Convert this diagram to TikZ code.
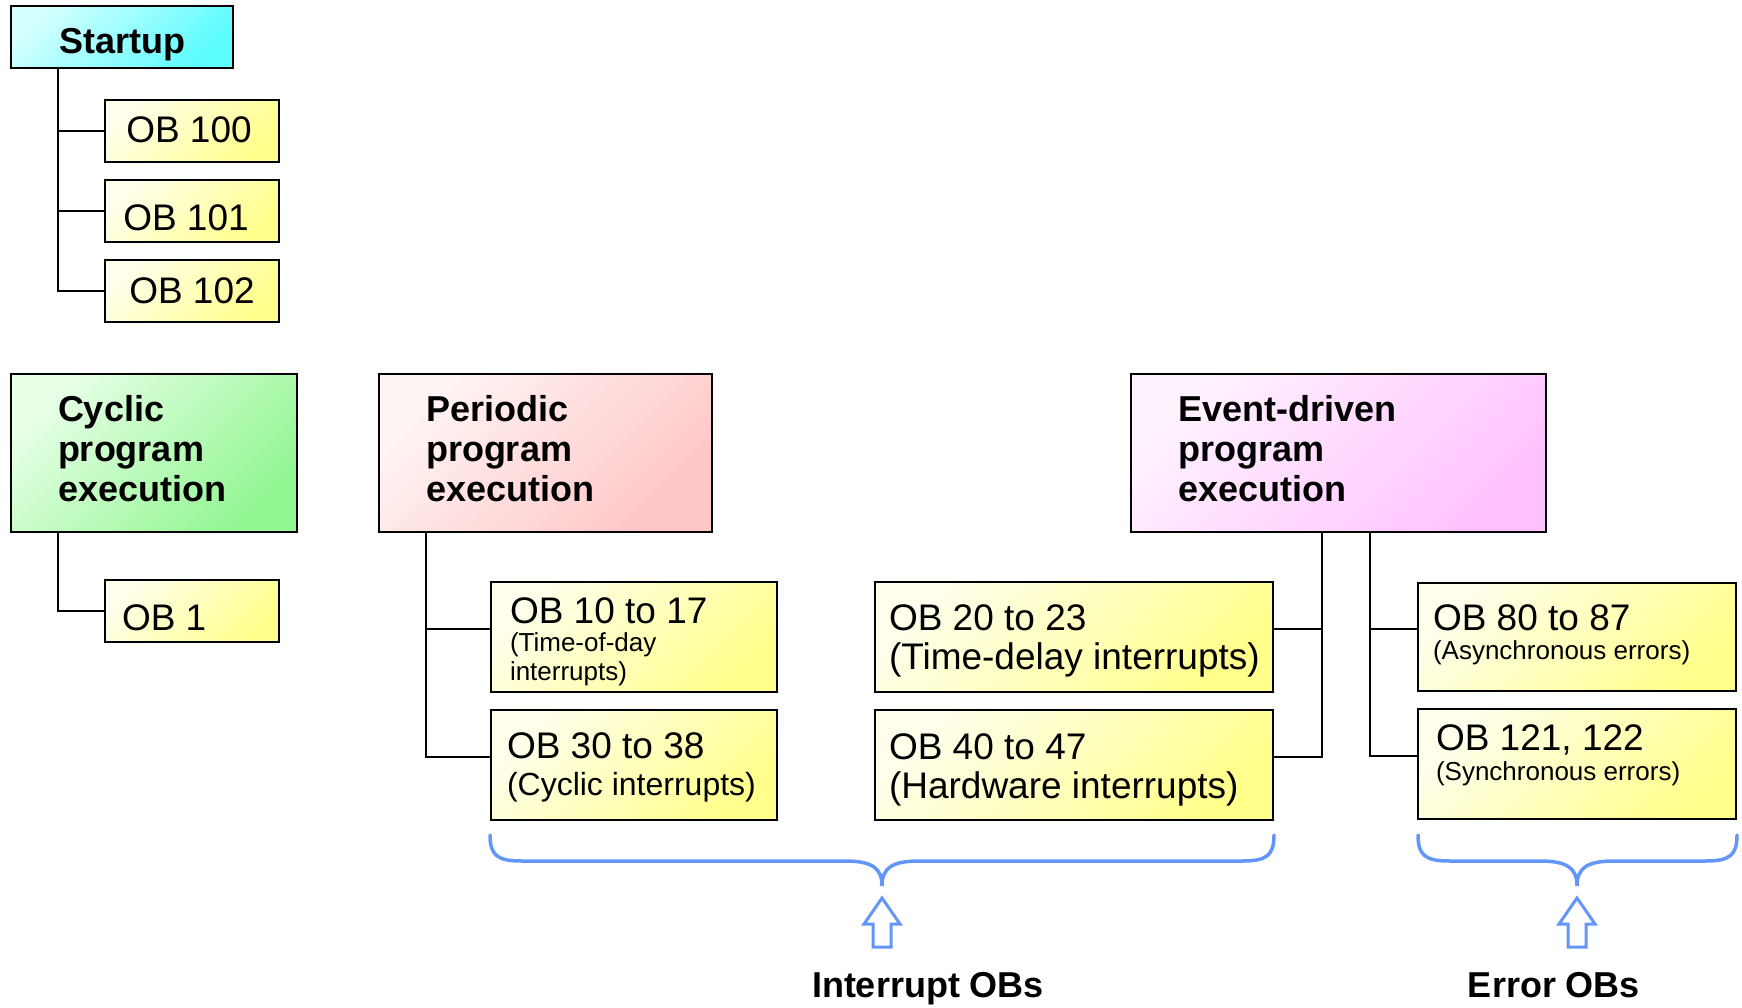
\documentclass[tikz,border=0pt]{standalone}
\usepackage{fontspec}
\setmainfont{Liberation Sans}
\newcommand\nsp{\spaceskip=0pt\xspaceskip=0pt\relax}
\definecolor{cyanA}{HTML}{D4FFFF}
\definecolor{cyanB}{HTML}{5CFCFF}
\definecolor{yelA}{HTML}{FFFFEC}
\definecolor{yelB}{HTML}{FFFF8C}
\definecolor{grnA}{HTML}{E6FFE6}
\definecolor{grnB}{HTML}{92F692}
\definecolor{pnkA}{HTML}{FFF4F4}
\definecolor{pnkB}{HTML}{FFC6C6}
\definecolor{magA}{HTML}{FFF2FF}
\definecolor{magB}{HTML}{FFC2FF}
\definecolor{braceblue}{HTML}{6496FA}
\tikzset{
  box/.style={rectangle, draw=black, line width=2.5pt, inner sep=0pt, outer sep=0pt},
  shadeit/.style 2 args={top color=#1, bottom color=#2, shading angle=45},
  obf/.style={font=\fontsize{37}{39}\selectfont},
  headf/.style={font=\bfseries\fontsize{36}{40}\selectfont},
  obbox/.style={box, shadeit={yelA}{yelB}, obf},
  headbox/.style={box, headf, minimum height=158pt, align=left, text height=26pt, text depth=90pt},
  conn/.style={draw=black, line width=2pt},
  brace/.style={draw=braceblue, line width=3.5pt, line cap=round},
  harrow/.style={draw=braceblue, line width=3pt, fill=white, line join=miter},
  lab/.style={font=\bfseries\fontsize{36}{38}\selectfont, inner sep=0pt}
}
\begin{document}
\begin{tikzpicture}[x=1pt,y=-1pt]
\useasboundingbox (0,0) rectangle (1742,1007);

% Startup group
\node[box, shadeit={cyanA}{cyanB}, headf, minimum width=222pt, minimum height=62pt,
      text height=32pt, text depth=0pt] (startup) at (122,37) {Startup};
\node[obbox, minimum width=174pt, minimum height=62pt, text height=22pt, text depth=0pt] (ob100) at (192,131) {\hspace*{-6pt}OB 100};
\node[obbox, minimum width=174pt, minimum height=62pt, text height=38pt, text depth=0pt] (ob101) at (192,211) {\hspace*{-12pt}OB 101};
\node[obbox, minimum width=174pt, minimum height=62pt, text height=24pt, text depth=0pt] (ob102) at (192,291) {OB 102};

% Cyclic group
\node[headbox, shadeit={grnA}{grnB}, minimum width=286pt, inner xsep=47pt, text width=192pt] (cyclic) at (154,453) {Cyclic\\program\\execution\par};
\node[obbox, minimum width=174pt, minimum height=62pt, inner xsep=17pt, text width=140pt, align=left,
      text height=38pt, text depth=0pt] (ob1) at (192,611) {\nsp OB 1};

% Periodic group
\node[headbox, shadeit={pnkA}{pnkB}, minimum width=333pt, inner xsep=47pt, text width=239pt] (periodic) at (545.5,453) {Periodic\\program\\execution\par};
\node[obbox, minimum width=286pt, minimum height=110pt, inner xsep=19pt, text width=248pt, align=left,
      text height=26pt, text depth=54pt] (ob10) at (634,637)
      {\nsp OB 10 to 17\\\fontsize{26}{28.5}\selectfont (Time-of-day\\interrupts)\par};
\node[obbox, minimum width=286pt, minimum height=110pt, inner xsep=16pt, text width=254pt, align=left,
      text height=26pt, text depth=40pt] (ob30) at (634,765)
      {\nsp OB 30 to 38\\\fontsize{32}{37}\selectfont\mbox{(Cyclic interrupts)}\par};

% Middle column
\node[obbox, minimum width=398pt, minimum height=110pt, inner xsep=14pt, text width=370pt, align=left,
      text height=26pt, text depth=40pt] (ob20) at (1074,637)
      {\nsp OB 20 to 23\\\mbox{(Time-delay interrupts)}\par};
\node[obbox, minimum width=398pt, minimum height=110pt, inner xsep=14pt, text width=370pt, align=left,
      text height=26pt, text depth=38pt] (ob40) at (1074,765)
      {\nsp OB 40 to 47\\\mbox{(Hardware interrupts)}\par};

% Event-driven group
\node[headbox, shadeit={magA}{magB}, minimum width=415pt, inner xsep=47pt, text width=321pt] (event) at (1338.5,453) {Event-driven\\program\\execution\par};
\node[obbox, minimum width=318pt, minimum height=108pt, inner xsep=15pt, text width=288pt, align=left,
      text height=26pt, text depth=40pt] (ob80) at (1577,637)
      {\nsp OB 80 to 87\\\fontsize{26}{29.5}\selectfont\mbox{(Asynchronous errors)}\par};
\node[obbox, minimum width=318pt, minimum height=110pt, inner xsep=18pt, text width=282pt, align=left,
      text height=26pt, text depth=54pt] (ob121) at (1577,764)
      {\nsp OB 121, 122\\\fontsize{26}{30.5}\selectfont\mbox{(Synchronous errors)}\par};

% connectors
\coordinate (st) at ([xshift=47]startup.south west);
\draw[conn] (st) |- (ob102.west);
\draw[conn] (ob100.west) -- (ob100.west -| st);
\draw[conn] (ob101.west) -- (ob101.west -| st);

\coordinate (ct) at ([xshift=47]cyclic.south west);
\draw[conn] (ct) |- (ob1.west);

\coordinate (pt) at ([xshift=47]periodic.south west);
\coordinate (ob10c) at ([yshift=8]ob10.west);
\coordinate (ob30c) at ([yshift=8]ob30.west);
\draw[conn] (pt) |- (ob30c);
\draw[conn] (ob10c) -- (ob10c -| pt);

\coordinate (ea) at ([xshift=191]event.south west);
\coordinate (eb) at ([xshift=239]event.south west);
\coordinate (ob20c) at ([yshift=8]ob20.east);
\coordinate (ob40c) at ([yshift=8]ob40.east);
\coordinate (ob80c) at ([yshift=8]ob80.west);
\coordinate (ob121c) at ([yshift=8]ob121.west);
\draw[conn] (ea) |- (ob40c);
\draw[conn] (ob20c) -- (ob20c -| ea);
\draw[conn] (eb) |- (ob121c);
\draw[conn] (ob80c) -- (ob80c -| eb);

% braces
\draw[brace] (490,835) .. controls (490,856) and (498,861) .. (522,861) -- (845,861)
  .. controls (872,861) and (882,868) .. (882,886)
  .. controls (882,868) and (892,861) .. (919,861) -- (1242,861)
  .. controls (1266,861) and (1274,856) .. (1274,835);
\draw[brace] (1418,835) .. controls (1418,856) and (1426,861) .. (1450,861) -- (1540,861)
  .. controls (1567,861) and (1577,868) .. (1577,886)
  .. controls (1577,868) and (1587,861) .. (1614,861) -- (1705,861)
  .. controls (1729,861) and (1737,856) .. (1737,835);

% hollow arrows
\draw[harrow] (882,898) -- (900,924) -- (891,924) -- (891,947) -- (873,947) -- (873,924) -- (864,924) -- cycle;
\draw[harrow] (1577,898) -- (1595,924) -- (1586,924) -- (1586,947) -- (1568,947) -- (1568,924) -- (1559,924) -- cycle;

% labels
\node[lab, anchor=base] (intlab) at (928,997) {Interrupt OBs};
\node[lab, anchor=base] (errlab) at (1554,997) {Error OBs};
\end{tikzpicture}
\end{document}
